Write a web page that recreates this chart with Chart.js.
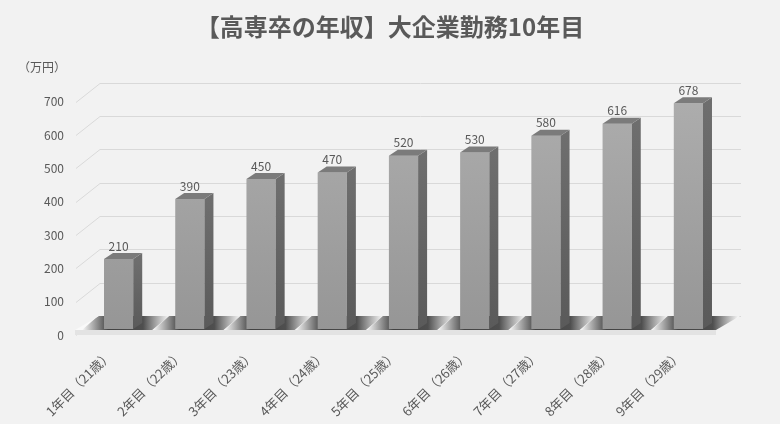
<!DOCTYPE html>
<html lang="ja">
<head>
<meta charset="utf-8">
<script src="https://cdn.jsdelivr.net/npm/chart.js@4.4.1/dist/chart.umd.min.js"></script>
<style>
  html, body { margin: 0; padding: 0; background: #f2f2f2; }
  #wrap { width: 780px; height: 424px; }
</style>
</head>
<body>
<div id="wrap"><canvas id="incomeChart"></canvas></div>
<script>
const categories = [
  "1年目（21歳）", "2年目（22歳）", "3年目（23歳）", "4年目（24歳）", "5年目（25歳）",
  "6年目（26歳）", "7年目（27歳）", "8年目（28歳）", "9年目（29歳）"
];
const incomeValues = [210, 390, 450, 470, 520, 530, 580, 616, 678];
const yTicks = [0, 100, 200, 300, 400, 500, 600, 700];
const chartTitle = "【高専卒の年収】大企業勤務10年目";
const unitLabel = "（万円）";

const FONT = "'Noto Sans CJK JP', 'Noto Sans', sans-serif";
const TEXT_COLOR = "#595959";

// fake 3D offsets
const BAR_DX = 9, BAR_DY = 6;      // bar depth
const WALL_DX = 17, WALL_DY = 13;  // back wall behind the bar plane
const FRONT_DX = 7, FRONT_DY = 6;  // axis labels / side lines in front of the bars

const fake3d = {
  id: "fake3d",
  beforeDatasetsDraw(chart) {
    const { ctx, chartArea, scales } = chart;
    const y = scales.y;
    const left = chartArea.left, right = chartArea.right;
    ctx.save();

    // back wall grid lines and side diagonals
    ctx.lineWidth = 1;
    ctx.strokeStyle = "#d9d9d9";
    yTicks.forEach((v) => {
      const py = Math.round(y.getPixelForValue(v)) + 0.5;
      ctx.beginPath();
      ctx.moveTo(left - FRONT_DX, py + FRONT_DY);
      ctx.lineTo(left + WALL_DX, py - WALL_DY);
      ctx.lineTo(right + WALL_DX, py - WALL_DY);
      ctx.stroke();
    });

    // floor slab
    const y0 = y.getPixelForValue(0);
    const fy = y0 + 1, by = y0 - WALL_DY;
    ctx.fillStyle = "#e3e3e3";
    ctx.fillRect(left - 8, fy, right - left, 5);
    const floor = new Path2D();
    floor.moveTo(left - 8, fy);
    floor.lineTo(right - 8, fy);
    floor.lineTo(right + WALL_DX - 1, by);
    floor.lineTo(left + WALL_DX - 1, by);
    floor.closePath();
    ctx.fillStyle = "#f9f9f9";
    ctx.fill(floor);

    // bar shadows on the floor
    ctx.clip(floor);
    const meta = chart.getDatasetMeta(0);
    meta.data.forEach((bar) => {
      const xl = bar.x - bar.width / 2, xr = bar.x + bar.width / 2;
      const g = ctx.createLinearGradient(xl - 22, 0, xr + 36, 0);
      g.addColorStop(0, "rgba(50,50,50,0)");
      g.addColorStop(0.3, "rgba(50,50,50,0.92)");
      g.addColorStop(0.7, "rgba(55,55,55,0.88)");
      g.addColorStop(1, "rgba(70,70,70,0)");
      ctx.fillStyle = g;
      ctx.beginPath();
      ctx.moveTo(xl - 22, fy);
      ctx.lineTo(xr + 19, fy);
      ctx.lineTo(xr + 36, by);
      ctx.lineTo(xl - 6, by);
      ctx.closePath();
      ctx.fill();
    });
    ctx.restore();
  },
  afterDatasetsDraw(chart) {
    const { ctx } = chart;
    const meta = chart.getDatasetMeta(0);
    ctx.save();
    meta.data.forEach((bar, i) => {
      const xl = bar.x - bar.width / 2, xr = bar.x + bar.width / 2;
      const top = bar.y, base = bar.base;
      // side face
      const sg = ctx.createLinearGradient(0, top, 0, base);
      sg.addColorStop(0, "#6e6e6e");
      sg.addColorStop(1, "#5a5a5a");
      ctx.fillStyle = sg;
      ctx.beginPath();
      ctx.moveTo(xr, top);
      ctx.lineTo(xr + BAR_DX, top - BAR_DY);
      ctx.lineTo(xr + BAR_DX, base - BAR_DY);
      ctx.lineTo(xr, base);
      ctx.closePath();
      ctx.fill();
      // top face
      ctx.fillStyle = "#7b7b7b";
      ctx.beginPath();
      ctx.moveTo(xl, top);
      ctx.lineTo(xl + BAR_DX, top - BAR_DY);
      ctx.lineTo(xr + BAR_DX, top - BAR_DY);
      ctx.lineTo(xr, top);
      ctx.closePath();
      ctx.fill();
      // value label
      ctx.fillStyle = TEXT_COLOR;
      ctx.font = "12px " + FONT;
      ctx.textAlign = "center";
      ctx.textBaseline = "middle";
      ctx.fillText(String(incomeValues[i]), bar.x, top - 13);
    });
    // unit label
    ctx.fillStyle = TEXT_COLOR;
    ctx.font = "12px " + FONT;
    ctx.textAlign = "center";
    ctx.textBaseline = "middle";
    ctx.fillText(unitLabel, 42, chart.chartArea.top - 28);
    ctx.restore();
  }
};

const ctx = document.getElementById("incomeChart").getContext("2d");

new Chart(ctx, {
  type: "bar",
  data: {
    labels: categories,
    datasets: [
      {
        label: "年収",
        data: incomeValues,
        backgroundColor: function (context) {
          const area = context.chart.chartArea;
          if (!area) return "#a0a0a0";
          const g = context.chart.ctx.createLinearGradient(0, area.top, 0, area.bottom);
          g.addColorStop(0, "#adadad");
          g.addColorStop(1, "#969696");
          return g;
        },
        borderWidth: 0,
        categoryPercentage: 1,
        barPercentage: 0.41,
      },
    ],
  },
  options: {
    responsive: true,
    maintainAspectRatio: false,
    animation: false,
    layout: { padding: 0 },
    plugins: {
      legend: { display: false },
      tooltip: { enabled: false },
      title: {
        display: true,
        text: chartTitle,
        color: TEXT_COLOR,
        font: { family: FONT, size: 24, weight: "bold" },
        padding: { top: 12, bottom: 55 },
      },
    },
    scales: {
      x: {
        grid: { display: false, drawTicks: false },
        border: { display: false },
        ticks: {
          color: TEXT_COLOR,
          font: { family: FONT, size: 13 },
          minRotation: 45,
          maxRotation: 45,
          padding: 18,
          labelOffset: -9,
        },
        afterFit: (s) => { s.height = 95; },
      },
      y: {
        min: 0,
        max: 700,
        grid: { display: false, drawTicks: false },
        border: { display: false },
        ticks: {
          stepSize: 100,
          color: TEXT_COLOR,
          font: { family: FONT, size: 12 },
          padding: 19,
          labelOffset: 6,
        },
        afterFit: (s) => { s.width = 83; },
      },
      // empty right-hand margin so the title stays centred on the page
      yRight: {
        type: "linear",
        position: "right",
        grid: { display: false, drawTicks: false },
        border: { display: false },
        ticks: { display: false },
        afterFit: (s) => { s.width = 56; },
      },
    },
  },
  plugins: [fake3d],
});
</script>
</body>
</html>
